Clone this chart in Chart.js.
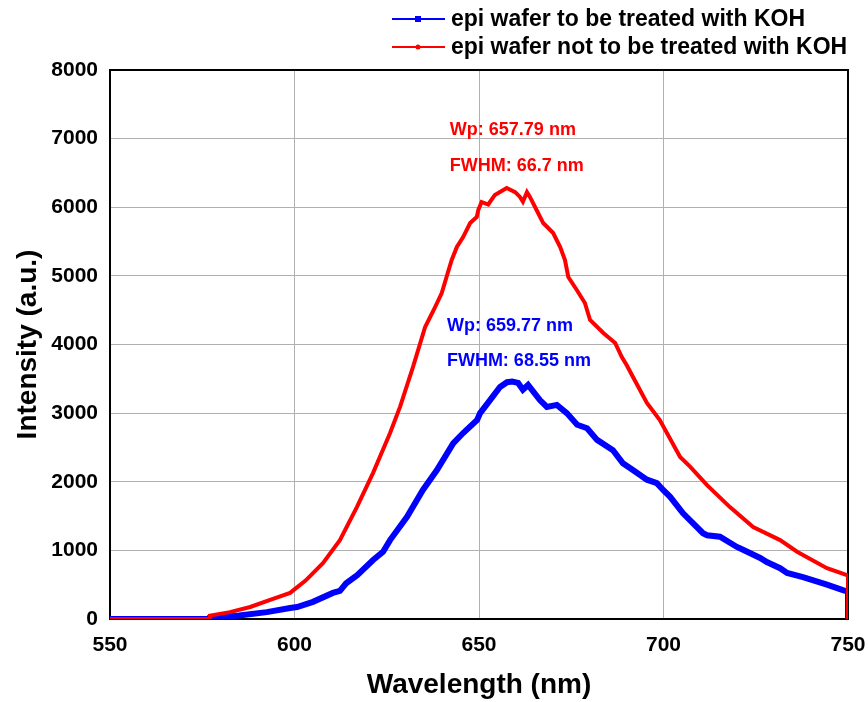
<!DOCTYPE html>
<html>

<head>
  <meta charset="utf-8">
  <title>PL Spectrum</title>
  <style>
    body {
      margin: 0;
      padding: 0;
      background-color: #FFF;
    }
  </style>
</head>

<body>
  <canvas id="plChart" width="868" height="702"></canvas>

  <script src="https://cdn.jsdelivr.net/npm/chart.js"></script>

  <script>
    // Series
    const seriesNames = ['epi wafer to be treated with KOH', 'epi wafer not to be treated with KOH'];

    const blueNm = [550, 576.9, 577.1, 585, 592.5, 598.8, 600.7, 605, 610.4, 612.3, 614, 617, 621.3, 624, 625.9,
      630.5, 634.8, 638.6, 643, 645.7, 649.5, 650.3, 653, 655.7, 657.6, 659, 660.6, 661.9, 663.3, 666.5, 668.4,
      671.1, 673.8, 676.6, 679.3, 682, 686.3, 689, 691.7, 695.5, 698.2, 699.9, 701.8, 705.3, 710.7, 711.8, 715.3,
      719.9, 720.7, 726.2, 728, 731.6, 733.5, 737.8, 744.3, 748.6, 750, 750];
    const blueIntensity = [0, 0, 15, 50, 100, 160, 175, 250, 380, 410, 520, 640, 860, 980, 1150,
      1490, 1880, 2170, 2560, 2710, 2900, 3000, 3190, 3380, 3450, 3460, 3440, 3340, 3410, 3190, 3090,
      3120, 3000, 2830, 2780, 2610, 2460, 2270, 2170, 2030, 1980, 1880, 1780, 1540, 1250, 1220, 1200,
      1050, 1030, 890, 830, 740, 670, 610, 500, 420, 400, 0];

    const redNm = [550, 576.9, 577.1, 582.5, 588, 593.4, 598.8, 603, 607.7, 612.3, 616.9, 621.3, 625.9, 628.6,
      632.1, 635.4, 638.1, 639.9, 641.2, 642.6, 644, 645.7, 647.6, 649.4, 649.8, 650.7, 652.5, 654.3, 657.5,
      659.8, 661.1, 661.9, 663, 663.8, 665.6, 667.4, 670.1, 672, 673.3, 674.2, 676.5, 678.7, 680.1, 683.7,
      686.9, 688.7, 690, 692.5, 695.5, 699, 704.5, 707.2, 711.8, 718, 724.3, 731.6, 736.2, 744.3, 749.7, 750, 750];
    const redIntensity = [0, 0, 50, 100, 175, 280, 380, 560, 815, 1150, 1630, 2130, 2710, 3090,
      3670, 4255, 4546, 4750, 4984, 5231, 5421, 5566, 5770, 5858, 5960, 6077, 6040, 6180, 6280,
      6220, 6150, 6080, 6220, 6150, 5960, 5770, 5625, 5421, 5231, 4984, 4794, 4605, 4357, 4168,
      4022, 3818, 3700, 3450, 3150, 2900, 2360, 2220, 1950, 1630, 1340, 1150, 980, 740, 640, 630, 0];

    const xTicks = [550, 600, 650, 700, 750];
    const yTicks = [0, 1000, 2000, 3000, 4000, 5000, 6000, 7000, 8000];

    // text notes: [label, nm, intensity, colour]
    const notes = [
      ['Wp: 657.79 nm', 642.1, 7125, '#FF0000'],
      ['FWHM: 66.7 nm', 642.1, 6600, '#FF0000'],
      ['Wp: 659.77 nm', 641.3, 4270, '#0000FF'],
      ['FWHM: 68.55 nm', 641.3, 3760, '#0000FF']
    ];

    const toPoints = (xs, ys) => xs.map((x, i) => ({ x: x, y: ys[i] }));

    Chart.defaults.font.family = '"Liberation Sans", Arial, sans-serif';
    Chart.defaults.color = '#000';

    // black box round the plot area
    const framePlugin = {
      id: 'frame',
      beforeDatasetsDraw(chart) {
        const a = chart.chartArea;
        const ctx = chart.ctx;
        ctx.save();
        ctx.strokeStyle = '#000';
        ctx.lineWidth = 2;
        ctx.strokeRect(a.left, a.top, a.right - a.left, a.bottom - a.top);
        ctx.restore();
      }
    };

    // peak notes and the legend at the top right
    const textPlugin = {
      id: 'notes',
      afterDraw(chart) {
        const ctx = chart.ctx;
        const xs = chart.scales.x;
        const ys = chart.scales.y;
        ctx.save();
        ctx.font = 'bold 18px "Liberation Sans", Arial, sans-serif';
        ctx.textAlign = 'left';
        ctx.textBaseline = 'middle';
        notes.forEach(n => {
          ctx.fillStyle = n[3];
          ctx.fillText(n[0], xs.getPixelForValue(n[1]), ys.getPixelForValue(n[2]));
        });

        // legend
        const colours = ['#0000FF', '#FF0000'];
        ctx.font = 'bold 23px "Liberation Sans", Arial, sans-serif';
        seriesNames.forEach((name, i) => {
          const y = 19 + i * 28;
          ctx.strokeStyle = colours[i];
          ctx.lineWidth = 2;
          ctx.beginPath();
          ctx.moveTo(392, y);
          ctx.lineTo(445, y);
          ctx.stroke();
          ctx.fillStyle = colours[i];
          if (i === 0) {
            ctx.fillRect(415, y - 3, 6, 6);
          } else {
            ctx.beginPath();
            ctx.arc(418, y, 2.5, 0, Math.PI * 2);
            ctx.fill();
          }
          ctx.fillStyle = '#000';
          ctx.fillText(name, 451, y + 1);
        });
        ctx.restore();
      }
    };

    const ctx = document.getElementById('plChart').getContext('2d');
    const plChart = new Chart(ctx, {
      type: 'line',
      data: {
        datasets: [
          {
            label: seriesNames[0],
            data: toPoints(blueNm, blueIntensity),
            borderColor: '#0000FF',
            backgroundColor: '#0000FF',
            borderWidth: 6,
            pointRadius: 0,
            fill: false,
            tension: 0,
            order: 2
          },
          {
            label: seriesNames[1],
            data: toPoints(redNm, redIntensity),
            borderColor: '#FF0000',
            backgroundColor: '#FF0000',
            borderWidth: 4,
            pointRadius: 0,
            fill: false,
            tension: 0,
            order: 1
          }
        ]
      },
      options: {
        responsive: false,
        animation: false,
        layout: { padding: { top: 70, left: 0, right: 20, bottom: 0 } },
        plugins: {
          legend: { display: false },
          tooltip: { enabled: false }
        },
        scales: {
          x: {
            type: 'linear',
            min: 550,
            max: 750,
            afterBuildTicks: axis => { axis.ticks = xTicks.map(v => ({ value: v })); },
            afterFit: axis => {
              axis.height = 83;
              axis.paddingLeft = 0;
              axis.paddingRight = 0;
            },
            grid: { color: '#B0B0B0', lineWidth: 1, drawTicks: false },
            border: { display: false },
            ticks: {
              font: { size: 21, weight: 'bold' },
              padding: 14,
              maxRotation: 0,
              callback: v => String(v)
            },
            title: {
              display: true,
              text: 'Wavelength (nm)',
              font: { size: 28, weight: 'bold' },
              padding: { top: 0, bottom: 0 }
            }
          },
          y: {
            min: 0,
            max: 8000,
            afterBuildTicks: axis => { axis.ticks = yTicks.map(v => ({ value: v })); },
            afterFit: axis => { axis.width = 110; },
            grid: { color: '#B0B0B0', lineWidth: 1, drawTicks: false },
            border: { display: false },
            ticks: {
              font: { size: 21, weight: 'bold' },
              padding: 12,
              callback: v => String(v)
            },
            title: {
              display: true,
              text: 'Intensity (a.u.)',
              font: { size: 28, weight: 'bold' },
              padding: { top: 11, bottom: 0 }
            }
          }
        }
      },
      plugins: [framePlugin, textPlugin]
    });
  </script>
</body>

</html>
